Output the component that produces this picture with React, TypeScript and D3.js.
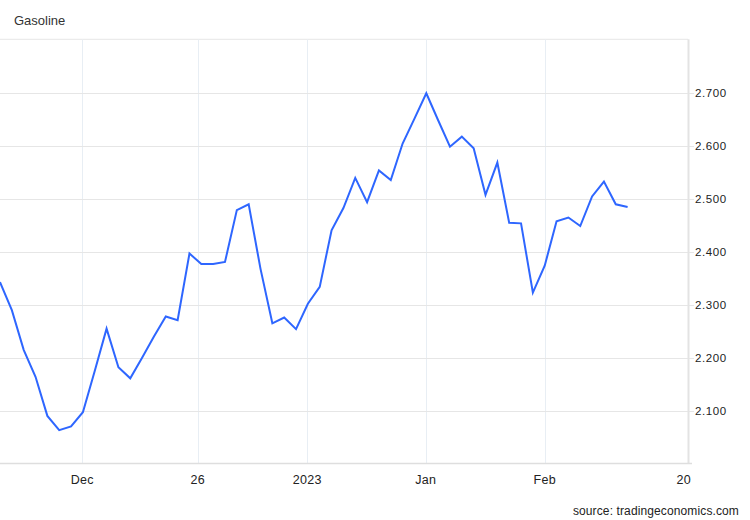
import React from "react";
import * as d3 from "d3";

const title = "Gasoline";
const source = "source: tradingeconomics.com";

const prices: number[] = [
  2.343, 2.29, 2.215, 2.164, 2.09, 2.063, 2.07, 2.097, 2.175, 2.255,
  2.182, 2.161, 2.2, 2.24, 2.278, 2.271, 2.397, 2.377, 2.377, 2.381,
  2.479, 2.49, 2.368, 2.265, 2.276, 2.254, 2.302, 2.334, 2.441, 2.483,
  2.54, 2.494, 2.554, 2.536, 2.605, 2.652, 2.7, 2.649, 2.599, 2.618,
  2.596, 2.508, 2.569, 2.455, 2.454, 2.323, 2.374, 2.458, 2.465, 2.449,
  2.505, 2.533, 2.49, 2.485,
];

const xTickPos: number[] = [6.95, 16.7, 25.95, 35.95, 46.0, 57.75];
const xTickLabels: string[] = ["Dec", "26", "2023", "Jan", "Feb", "20"];
const xTickGrid: boolean[] = [true, true, true, true, true, false];

const yTicks: number[] = [2.1, 2.2, 2.3, 2.4, 2.5, 2.6, 2.7];

const W = 750;
const H = 520;
const plotLeft = 0;
const plotRight = 688;
const plotTop = 39.3;
const plotBottom = 463.5;

export default function App() {
  const x = d3.scaleLinear().domain([0, 58.1]).range([plotLeft, plotRight]);
  const y = d3.scaleLinear().domain([2.0, 2.802]).range([plotBottom, plotTop]);
  const line = d3
    .line<number>()
    .x((_, i) => x(i))
    .y((d) => y(d));

  const font = "'Liberation Sans', Arial, Helvetica, sans-serif";

  return (
    <svg
      width={W}
      height={H}
      style={{ position: "absolute", left: 0, top: 0, background: "#fff" }}
      fontFamily={font}
    >
      <rect x={0} y={0} width={W} height={H} fill="#fff" />
      <text x={14} y={25} fontSize={13} fill="#333">
        {title}
      </text>
      <line x1={plotLeft} x2={plotRight} y1={plotTop} y2={plotTop} stroke="#e6e6e6" strokeWidth={1} />
      {xTickPos.map((p, i) =>
        xTickGrid[i] ? (
          <line
            key={"vg" + i}
            x1={Math.round(x(p)) + 0.5}
            x2={Math.round(x(p)) + 0.5}
            y1={plotTop}
            y2={plotBottom}
            stroke="#e8eef4"
            strokeWidth={1}
          />
        ) : null
      )}
      {yTicks.map((t) => (
        <g key={"hg" + t}>
          <line
            x1={plotLeft}
            x2={plotRight + 6}
            y1={Math.round(y(t)) + 0.5}
            y2={Math.round(y(t)) + 0.5}
            stroke="#e6e6e6"
            strokeWidth={1}
          />
          <text
            x={695}
            y={y(t)}
            dy="0.35em"
            fontSize={11.5}
            letterSpacing={0.6}
            fill="#222"
          >
            {d3.format(".3f")(t)}
          </text>
        </g>
      ))}
      <line x1={plotRight + 0.5} x2={plotRight + 0.5} y1={plotTop} y2={plotBottom} stroke="#e3e3e3" strokeWidth={2} />
      <line x1={plotLeft} x2={692} y1={plotBottom} y2={plotBottom} stroke="#dedede" strokeWidth={1.5} />
      {xTickPos.map((p, i) => (
        <text
          key={"xl" + i}
          x={x(p)}
          y={483.5}
          textAnchor="middle"
          fontSize={12.5}
          letterSpacing={0.3}
          fill="#222"
        >
          {xTickLabels[i]}
        </text>
      ))}
      <path d={line(prices) || ""} fill="none" stroke="#2e66ff" strokeWidth={2} strokeLinejoin="miter" />
      <text x={739} y={515} textAnchor="end" fontSize={12} letterSpacing={0.12} fill="#222">
        {source}
      </text>
    </svg>
  );
}
